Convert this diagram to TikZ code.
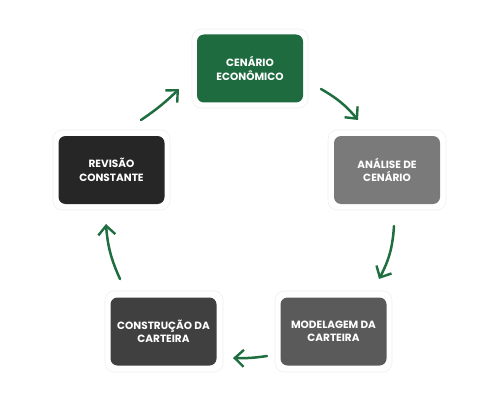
\documentclass[tikz,border=0pt]{standalone}
\usepackage{fontspec}
\setmainfont{Poppins}
\usetikzlibrary{arrows.meta}
\definecolor{cgreen}{HTML}{1E6B40}
\definecolor{agreen}{HTML}{1F6E3F}
\definecolor{cgray}{HTML}{7A7A7A}
\definecolor{cdark}{HTML}{262626}
\definecolor{cmid}{HTML}{404040}
\definecolor{cmod}{HTML}{5A5A5A}
\tikzset{
  stage/.style={rounded corners=7pt, minimum width=106pt, minimum height=68pt,
    text=white, font=\fontsize{10.5}{13.5}\selectfont\bfseries, align=center, inner sep=0pt},
  halo/.style={draw=black!6, line width=0.6pt, rounded corners=9pt},
  flow/.style={draw=agreen, line width=2.5pt, line cap=round,
    -{Straight Barb[length=9pt,width=17pt,line width=2.4pt]}}
}
\begin{document}
\begin{tikzpicture}[x=1pt,y=-1pt]
\useasboundingbox (0,0) rectangle (500,401);
\fill[white] (0,0) rectangle (500,401);
% halos
\draw[halo] (192,29) rectangle (308,108);
\draw[halo] (328,130) rectangle (446,210);
\draw[halo] (53,130) rectangle (170,210);
\draw[halo] (105,291) rectangle (223,372);
\draw[halo] (275,291) rectangle (392,372);
% nodes
\node[stage, fill=cgreen] (ce) at (250,68.5) {CENÁRIO\\ECONÔMICO};
\node[stage, fill=cgray] (an) at (387,170) {ANÁLISE DE\\CENÁRIO};
\node[stage, fill=cmod] (mo) at (333.5,331.5) {MODELAGEM DA\\CARTEIRA};
\node[stage, fill=cmid] (co) at (163.5,331.5) {CONSTRUÇÃO DA\\CARTEIRA};
\node[stage, fill=cdark] (re) at (111.5,170) {REVISÃO\\CONSTANTE};
% connector end points
\coordinate (a1s) at (321,89);  \coordinate (a1e) at (358,120);
\coordinate (a2s) at (394,226); \coordinate (a2e) at (379,279);
\coordinate (a3s) at (267,356); \coordinate (a3e) at (233,358);
\coordinate (a4s) at (120,279); \coordinate (a4e) at (106,224);
\coordinate (a5s) at (141,120); \coordinate (a5e) at (179,89);
\draw[flow] (a1s) to[bend left=10] (a1e);
\draw[flow] (a2s) to[bend left=12] (a2e);
\draw[flow] (a3s) to[bend left=5] (a3e);
\draw[flow] (a4s) to[bend left=10] (a4e);
\draw[flow] (a5s) to[bend right=5] (a5e);
\end{tikzpicture}
\end{document}
